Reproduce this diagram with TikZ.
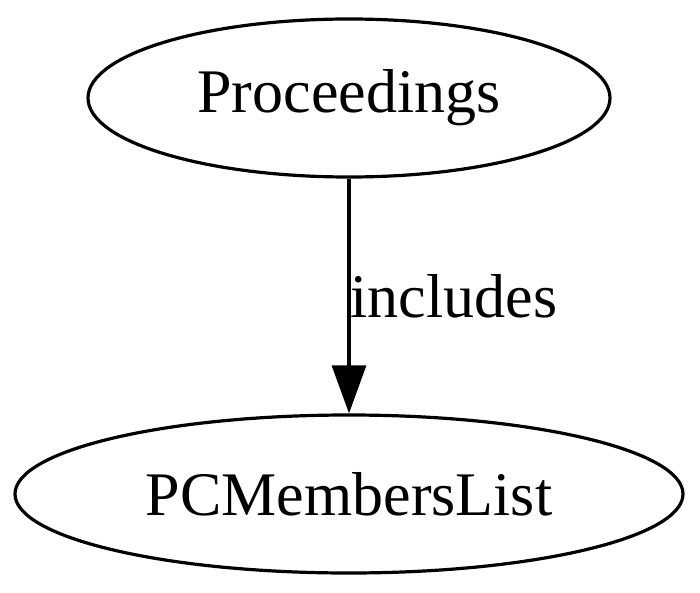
\documentclass[tikz,border=0pt]{standalone}
\usepackage{fontspec}
\setmainfont{Liberation Serif}
\usetikzlibrary{shapes.geometric,arrows.meta,positioning}

\begin{document}
\begin{tikzpicture}[
			x=0.5pt, y=-0.5pt,
			classnode/.style={draw=black, ellipse, line width=1.6pt, inner sep=0pt,
				font=\fontsize{31}{36}\selectfont},
			relarr/.style={-{Triangle[length=24pt, width=17pt]}, line width=1.6pt, black}
		]
			\useasboundingbox (0,0) rectangle (700,593);
			\node[classnode, minimum width=261pt, minimum height=79pt] (proc) at (349,98) {Proceedings};
			\node[classnode, minimum width=334pt, minimum height=79pt] (pcml) at (349,494) {PCMembersList};
			\draw[relarr] (proc.south) -- (pcml.north)
				node[pos=0.5, anchor=west, inner sep=0pt, font=\fontsize{31}{36}\selectfont]{includes};
		\end{tikzpicture}
\end{document}
